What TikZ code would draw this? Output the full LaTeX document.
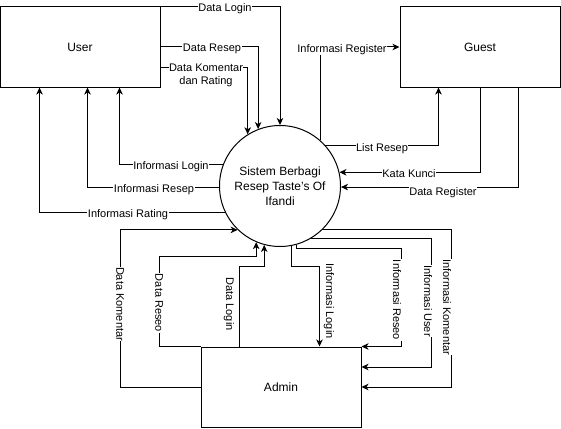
\documentclass[tikz,border=0pt]{standalone}
\usepackage{fontspec}
\setmainfont{Liberation Sans}
\usetikzlibrary{arrows.meta,calc}
\begin{document}
\begin{tikzpicture}[x=1pt,y=-1pt, line width=1pt,
 box/.style={draw, minimum width=160pt, minimum height=80pt, font=\fontsize{12}{14}\selectfont, inner sep=0pt},
 proc/.style={draw, circle, minimum size=121pt, inner sep=0pt, align=center, font=\fontsize{12}{15}\selectfont},
 arr/.style={-{Stealth[length=7pt,width=6.5pt,inset=2pt]}},
 lbl/.style={fill=white, inner sep=0.5pt, font=\fontsize{11}{13}\selectfont},
 vlbl/.style={lbl, rotate=-90}]
\useasboundingbox (0,0) rectangle (561,428);
\node[box] (user) at (80,47) {User};
\node[box] (guest) at (480,47) {Guest};
\node[box] (admin) at (281,387) {Admin};
\node[proc] (sys) at (280,186) {Sistem Berbagi\\Resep Taste's Of\\Ifandi};
% User -> Sistem
\draw[arr] (user.north east) -| (sys.north);
\draw[arr] (user.east) -| (sys.111.1);
\draw[arr] ($(user.east)+(0,20)$) -| (sys.122.7);
% Sistem -> User
\draw[arr] (sys.159.9) -| ($(user.south west)+(120,0)$);
\draw[arr] (sys.181.9) -| ($(user.south west)+(88,0)$);
\draw[arr] (sys.206.3) -| ($(user.south west)+(40,0)$);
% Sistem <-> Guest
\draw[arr] (sys.49) |- (guest.west);
\draw[arr] (sys.42.2) -| ($(guest.south west)+(39,0)$);
\draw[arr] (guest.south) |- (sys.13.3);
\draw[arr] ($(guest.south west)+(119,0)$) |- (sys.-1.9);
% Admin -> Sistem
\draw[arr] (admin.west) -- ++(-80,0) |- (sys.226.2);
\draw[arr] (admin.north west) -- ++(-41,0) -- ++(0,-90) -| (sys.247.8);
\draw[arr] ($(admin.north west)+(39,0)$) -- ++(0,-80) -| (sys.255.8);
% Sistem -> Admin
\draw[arr] (sys.281.3) |- ($(admin.north west)+(119,-80)$) -- ($(admin.north west)+(119,0)$);
\draw[arr] (sys.286.2) |- ($(admin.north east)+(40,-98)$) -- ($(admin.north east)+(40,0)$) -- (admin.north east);
\draw[arr] (sys.-60.3) -| ($(admin.east)+(70,-20)$) -- ($(admin.east)+(0,-20)$);
\draw[arr] (sys.-46.2) -| ($(admin.east)+(90,0)$) -- (admin.east);
% labels
\node[lbl] (l1) at (225,8.5) {Data Login};
\node[lbl] (l2) at (212,48.5) {Data Resep};
\node[lbl, align=center] (l3) at (206,75) {Data Komentar\\dan Rating};
\node[lbl] (l4) at (171,166.5) {Informasi Login};
\node[lbl] (l5) at (154,189.5) {Informasi Resep};
\node[lbl] (l6) at (128,214.5) {Informasi Rating};
\node[lbl] (l7) at (342,49.5) {Informasi Register};
\node[lbl] (l8) at (382,148.5) {List Resep};
\node[lbl] (l9) at (409,173.5) {Kata Kunci};
\node[lbl] (l10) at (443,192.5) {Data Register};
\node[vlbl] (l11) at (120,304) {Data Komentar};
\node[vlbl] (l12) at (159,303) {Data Reseo};
\node[vlbl] (l13) at (229,304) {Data Login};
\node[vlbl] (l14) at (329,301) {Informasi Login};
\node[vlbl] (l15) at (397,300) {Informasi Reseo};
\node[vlbl] (l16) at (428,301) {Informasi User};
\node[vlbl] (l17) at (447,307) {Informasi Komentar};
\end{tikzpicture}
\end{document}
